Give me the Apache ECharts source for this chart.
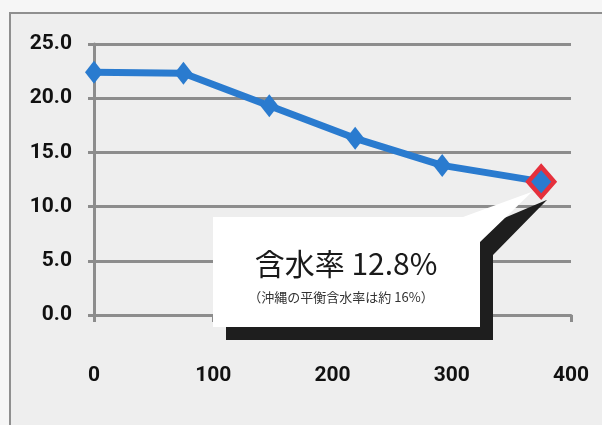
<!DOCTYPE html>
<html><head><meta charset="utf-8">
<script src="https://cdn.jsdelivr.net/npm/echarts@6/dist/echarts.min.js"></script>
<style>html,body{margin:0;padding:0;background:#f6f6f6}#c{width:602px;height:425px}</style>
</head><body><div id="c"></div>
<script>
const xValues = [0, 75, 147, 219, 292, 375];
const moisture = [22.4, 22.3, 19.3, 16.3, 13.8, 12.3];
const yTicks = [0, 5, 10, 15, 20, 25];
const xTicks = [0, 100, 200, 300, 400];
const calloutTitle = '含水率 12.8%';
const calloutNote = '（沖縄の平衡含水率は約 16%）';

const BLUE = '#2a7bcf', RED = '#e5303c', GRID = '#8c8c8c';
const tickFont = "Roboto, 'Liberation Sans', sans-serif";

const chart = echarts.init(document.getElementById('c'), null, {renderer: 'canvas'});
const seriesData = xValues.map((x, i) => {
  const d = {value: [x, moisture[i]]};
  if (i === xValues.length - 1) {
    d.symbolSize = [26, 30];
    d.itemStyle = {color: BLUE, borderColor: RED, borderWidth: 4.5};
  }
  return d;
});

chart.setOption({
  animation: false,
  backgroundColor: '#f6f6f6',
  grid: {left: 94, right: 31, top: 44, bottom: 110},
  xAxis: {
    type: 'value', min: xTicks[0], max: xTicks[xTicks.length - 1], interval: 100,
    axisLine: {show: true, lineStyle: {color: GRID, width: 3}},
    axisTick: {show: true, length: 7, lineStyle: {color: GRID, width: 3}},
    splitLine: {show: false},
    axisLabel: {margin: 50, color: '#111', fontSize: 21, fontWeight: 'bold', fontFamily: tickFont}
  },
  yAxis: {
    type: 'value', min: yTicks[0], max: yTicks[yTicks.length - 1], interval: 5,
    axisLine: {show: true, lineStyle: {color: GRID, width: 3}},
    axisTick: {show: true, length: 6, lineStyle: {color: GRID, width: 3}},
    splitLine: {show: true, lineStyle: {color: GRID, width: 3}},
    axisLabel: {margin: 22, color: '#111', fontSize: 21, fontWeight: 'bold', fontFamily: tickFont,
      formatter: v => v.toFixed(1)}
  },
  series: [{
    type: 'line', data: seriesData, symbol: 'diamond', symbolSize: [18, 23],
    lineStyle: {color: BLUE, width: 7}, itemStyle: {color: BLUE},
    emphasis: {disabled: true}, z: 5
  }]
});

const p = chart.convertToPixel({seriesIndex: 0}, [xValues[xValues.length - 1], moisture[moisture.length - 1]]);
const tip = [p[0] - 9, p[1] + 10];
const box = {l: 213, t: 217, r: 480, b: 327};
const shape = [[box.l, box.t], [463, box.t], tip, [box.r, 242], [box.r, box.b], [box.l, box.b]];
const off = 13;
const shadow = shape.map(q => [q[0] + off, q[1] + off]);
shadow[2] = [tip[0] + 15, tip[1] + 8];

chart.setOption({
  graphic: [
    {type: 'rect', z: -10, silent: true, shape: {x: 10, y: 13, width: 620, height: 440},
     style: {fill: '#eeeeee', stroke: '#8f8f8f', lineWidth: 2}},
    {type: 'polygon', z: 100, silent: true, shape: {points: shadow}, style: {fill: '#1e1e1e'}},
    {type: 'polygon', z: 101, silent: true, shape: {points: shape}, style: {fill: '#ffffff'}},
    {type: 'text', z: 102, silent: true, style: {text: calloutTitle, x: 346, y: 264,
      textAlign: 'center', textVerticalAlign: 'middle', fill: '#1a1a1a',
      font: "30px 'Noto Sans CJK JP', sans-serif"}},
    {type: 'text', z: 102, silent: true, style: {text: calloutNote, x: 341, y: 297,
      textAlign: 'center', textVerticalAlign: 'middle', fill: '#333',
      font: "13px 'Noto Sans CJK JP', sans-serif"}}
  ]
}, {replaceMerge: ['graphic']});
</script>
</body></html>
